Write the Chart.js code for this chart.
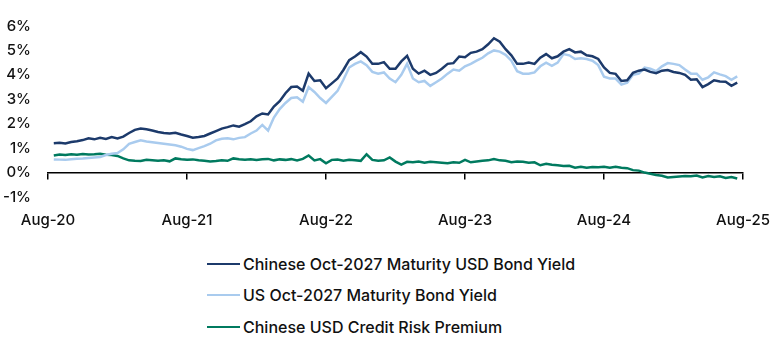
<!DOCTYPE html>
<html>
<head>
<meta charset="utf-8">
<script src="https://cdn.jsdelivr.net/npm/chart.js@4.4.1/dist/chart.umd.min.js"></script>
<style>
  html, body { margin: 0; padding: 0; background: #fff; }
  body { width: 784px; height: 341px; position: relative; overflow: hidden; font-family: Inter, "Liberation Sans", sans-serif; }
  #wrap { position: absolute; left: 0; top: 0; width: 784px; height: 240px; }
  #legend { position: absolute; left: 207px; top: 248px; }
  .item { height: 31.5px; display: flex; align-items: center; font-size: 16px; font-weight: 500; color: #111; }
  .swatch { width: 33px; height: 2px; margin-right: 3px; }
</style>
</head>
<body>
<div id="wrap"><canvas id="c"></canvas></div>
<div id="legend"></div>
<script>
// half-monthly samples, first one mid Aug-2020
const startMonth = 0.5;
const stepMonths = 0.5;
const yearLabels = ['Aug-20', 'Aug-21', 'Aug-22', 'Aug-23', 'Aug-24', 'Aug-25'];
const yTicks = [-1, 0, 1, 2, 3, 4, 5, 6];

const chineseYield = [
  1.20, 1.22, 1.19, 1.25, 1.28, 1.33, 1.40, 1.36, 1.42, 1.38, 1.45, 1.40,
  1.47, 1.62, 1.75, 1.80, 1.77, 1.72, 1.66, 1.62, 1.60, 1.63, 1.56, 1.50,
  1.43, 1.46, 1.50, 1.60, 1.70, 1.80, 1.86, 1.93, 1.88, 1.98, 2.10, 2.30,
  2.42, 2.38, 2.70, 2.92, 3.25, 3.50, 3.52, 3.35, 4.05, 3.75, 3.78, 3.45,
  3.65, 3.85, 4.20, 4.60, 4.75, 4.93, 4.75, 4.45, 4.45, 4.52, 4.25, 4.25,
  4.55, 4.78, 4.25, 4.05, 4.17, 4.00, 4.08, 4.25, 4.45, 4.48, 4.75, 4.72,
  4.90, 4.95, 5.05, 5.25, 5.50, 5.36, 5.05, 4.80, 4.45, 4.45, 4.50, 4.45,
  4.70, 4.85, 4.68, 4.76, 4.95, 5.05, 4.92, 4.95, 4.80, 4.76, 4.65, 4.30,
  4.08, 4.04, 3.75, 3.78, 4.08, 4.17, 4.22, 4.12, 4.07, 4.17, 4.20, 4.12,
  4.08, 4.00, 3.80, 3.82, 3.50, 3.62, 3.78, 3.73, 3.72, 3.55, 3.68
];
const usYield = [
  0.54, 0.53, 0.52, 0.55, 0.57, 0.58, 0.60, 0.62, 0.64, 0.72, 0.77, 0.80,
  0.95, 1.18, 1.25, 1.32, 1.27, 1.24, 1.21, 1.18, 1.15, 1.12, 1.06, 0.97,
  0.92, 1.00, 1.08, 1.18, 1.32, 1.38, 1.40, 1.36, 1.42, 1.45, 1.60, 1.72,
  1.95, 1.72, 2.25, 2.60, 2.85, 3.05, 3.08, 2.90, 3.50, 3.30, 3.05, 2.85,
  3.10, 3.35, 3.80, 4.30, 4.45, 4.55, 4.40, 4.12, 4.05, 4.10, 3.85, 3.70,
  4.00, 4.45, 3.85, 3.70, 3.75, 3.55, 3.70, 3.85, 4.05, 4.22, 4.17, 4.35,
  4.45, 4.58, 4.70, 4.88, 5.00, 4.95, 4.82, 4.58, 4.15, 4.05, 4.05, 4.10,
  4.35, 4.50, 4.37, 4.50, 4.85, 4.80, 4.65, 4.68, 4.65, 4.58, 4.40, 3.92,
  3.85, 3.85, 3.60, 3.68, 4.00, 4.05, 4.30, 4.25, 4.15, 4.35, 4.48, 4.45,
  4.40, 4.22, 4.05, 4.05, 3.80, 3.90, 4.10, 4.02, 3.95, 3.80, 3.94
];
const creditPremium = [
  0.70, 0.74, 0.72, 0.75, 0.73, 0.76, 0.74, 0.75, 0.77, 0.73, 0.72, 0.68,
  0.58, 0.50, 0.48, 0.47, 0.52, 0.50, 0.48, 0.50, 0.46, 0.58, 0.55, 0.53,
  0.54, 0.50, 0.48, 0.45, 0.47, 0.50, 0.48, 0.58, 0.55, 0.53, 0.55, 0.52,
  0.55, 0.56, 0.50, 0.54, 0.52, 0.55, 0.50, 0.56, 0.70, 0.50, 0.55, 0.38,
  0.52, 0.53, 0.48, 0.52, 0.50, 0.48, 0.75, 0.52, 0.48, 0.50, 0.62, 0.45,
  0.33, 0.44, 0.42, 0.45, 0.40, 0.44, 0.42, 0.40, 0.38, 0.42, 0.40, 0.52,
  0.42, 0.45, 0.48, 0.50, 0.55, 0.50, 0.48, 0.42, 0.45, 0.44, 0.40, 0.42,
  0.30, 0.36, 0.32, 0.30, 0.27, 0.28, 0.20, 0.24, 0.20, 0.23, 0.22, 0.24,
  0.20, 0.24, 0.20, 0.18, 0.10, 0.08, 0.00, -0.05, -0.10, -0.13, -0.20, -0.18,
  -0.16, -0.14, -0.15, -0.12, -0.20, -0.14, -0.18, -0.15, -0.22, -0.18, -0.24
];

const seriesNames = [
  'Chinese Oct-2027 Maturity USD Bond Yield',
  'US Oct-2027 Maturity Bond Yield',
  'Chinese USD Credit Risk Premium'
];
const seriesColors = ['#1c3a6b', '#a9cbee', '#007a5f'];

const toPoints = vals => vals.map((v, i) => ({x: startMonth + i * stepMonths, y: v}));

const tickFont = {family: 'Inter, "Liberation Sans", sans-serif', size: 15, weight: 500};

const datasets = [chineseYield, usYield, creditPremium].map((vals, i) => ({
    label: seriesNames[i],
    data: toPoints(vals),
    borderColor: seriesColors[i],
    borderWidth: 2.5,
    pointRadius: 0,
    tension: 0,
    fill: false,
}));

new Chart(document.getElementById('c'), {
    type: 'line',
    data: {datasets},
    options: {
        responsive: true,
        maintainAspectRatio: false,
        animation: false,
        layout: {padding: {top: 16, right: 40, left: 0, bottom: 0}},
        plugins: {legend: {display: false}, tooltip: {enabled: false}},
        scales: {
            x: {
                type: 'linear',
                min: 0,
                max: 60,
                afterFit: s => { s.height = 43; },
                afterBuildTicks: s => { s.ticks = yearLabels.map((_, i) => ({value: i * 12})); },
                ticks: {
                    callback: v => yearLabels[v / 12],
                    color: '#111',
                    font: tickFont,
                    padding: 14,
                    maxRotation: 0,
                },
                grid: {display: false, drawTicks: false},
                border: {display: false},
            },
            // zero line with year ticks hanging under it
            x0: {
                type: 'linear',
                position: {y: 0},
                min: 0,
                max: 60,
                afterBuildTicks: s => { s.ticks = yearLabels.map((_, i) => ({value: i * 12})); },
                ticks: {display: false},
                grid: {drawOnChartArea: false, drawTicks: true, tickLength: 6, color: '#000', lineWidth: 1.5},
                border: {display: true, color: '#000', width: 1.5},
            },
            y: {
                min: -1,
                max: 6,
                afterFit: s => { s.width = 48; },
                afterBuildTicks: s => { s.ticks = yTicks.map(v => ({value: v})); },
                ticks: {
                    callback: v => v + '%',
                    color: '#111',
                    font: tickFont,
                    padding: 17,
                },
                grid: {display: false, drawTicks: false},
                border: {display: false},
            },
        },
    },
});

// legend: one series per row, line sample then label
const legend = document.getElementById('legend');
seriesNames.forEach((name, i) => {
    const row = document.createElement('div');
    row.className = 'item';
    const sw = document.createElement('span');
    sw.className = 'swatch';
    sw.style.background = seriesColors[i];
    row.appendChild(sw);
    row.appendChild(document.createTextNode(name));
    legend.appendChild(row);
});
</script>
</body>
</html>
